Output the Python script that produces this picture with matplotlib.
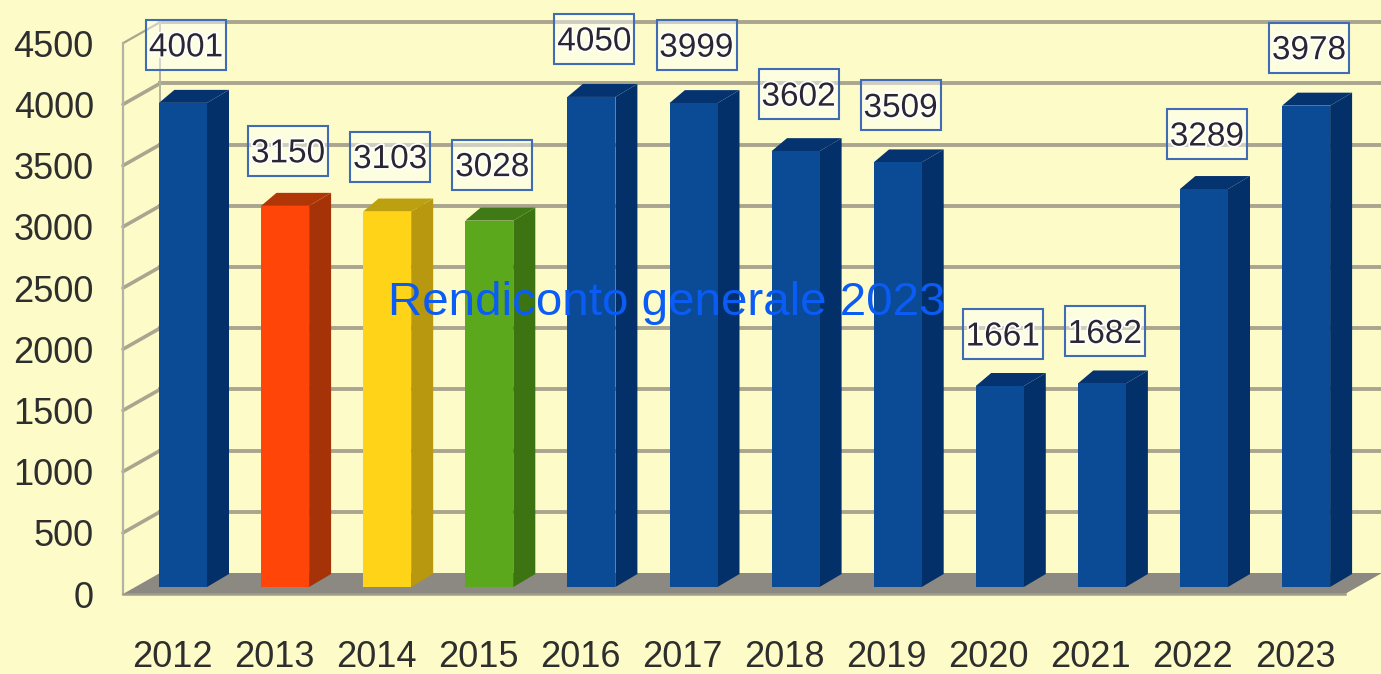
import matplotlib
matplotlib.use("Agg")
import matplotlib.pyplot as plt
import matplotlib.patheffects as pe
from matplotlib.patches import Polygon, Rectangle

years = ["2012", "2013", "2014", "2015", "2016", "2017", "2018", "2019", "2020", "2021", "2022", "2023"]
values = [4001, 3150, 3103, 3028, 4050, 3999, 3602, 3509, 1661, 1682, 3289, 3978]
front_colors = ["#0b4a94", "#ff4508", "#ffd318", "#5ca81c"] + ["#0b4a94"] * 8
side_colors = ["#04306a", "#a63208", "#b8980e", "#3c7412"] + ["#04306a"] * 8
top_colors = ["#05336f", "#b03608", "#bda010", "#407a16"] + ["#05336f"] * 8
label_lift = [58, 55, 55, 56, 58, 58, 57, 57, 52, 52, 55, 58]
y_ticks = [0, 500, 1000, 1500, 2000, 2500, 3000, 3500, 4000, 4500]
title = "Rendiconto generale 2023"

BG = "#fdfcc8"
GRID = "#a9a58f"
TXT = "#2e2e2e"
FONT = "Liberation Sans"
W, H = 1381, 674
L, R, B = 123, 1345, 594

PX_X = 102.1
PX_Y = 0.1224
BAR_PX_Y = 0.121

fig = plt.figure(figsize=(W / 100, H / 100), dpi=100, facecolor=BG)
rect = [L / W, (H - B) / H, (R - L) / W, B / H]
ax = fig.add_axes(rect, facecolor=BG)
ax2 = fig.add_axes(rect, facecolor="none")

xlim = ((L - 183) / PX_X, (R - 183) / PX_X)
ax.set_xlim(xlim)
ax.set_ylim(0, B / PX_Y)
ax2.set_xlim(xlim)
ax2.set_ylim(-7 / BAR_PX_Y, 587 / BAR_PX_Y)
ax2.axis("off")
for s in ax.spines.values():
    s.set_visible(False)

# 3D box: floor, side wall and back grid
back_dx = 37 / PX_X
back_dy = 21 / PX_Y
x0, x1 = xlim
ax.add_patch(Polygon([(x0, 0), (x0 + back_dx, back_dy), (x1 + back_dx, back_dy), (x1, 0)],
                     closed=True, fc="#8b8982", ec="none", clip_on=False, zorder=1))
for t in y_ticks[1:]:
    ax.plot([x0, x0 + back_dx], [t, t + back_dy], color=GRID, lw=2.6 if t < 4500 else 1.6,
            clip_on=False, zorder=2, solid_capstyle="round")
    ax.plot([x0 + back_dx, x1 + back_dx], [t + back_dy, t + back_dy], color=GRID, lw=2.8,
            clip_on=False, zorder=2)
ax.plot([x0, x0], [0, 4500], color="#b4b2a2", lw=1.6, clip_on=False, zorder=2)
ax.plot([x0 + back_dx, x0 + back_dx], [back_dy, 4500 + back_dy], color="#b4b2a2", lw=1.4, clip_on=False, zorder=2)
ax.plot([x0, x1], [0, 0], color="#a09e8a", lw=1.8, clip_on=False, zorder=2)

ax.set_yticks(y_ticks)
ax.set_yticklabels([str(t) for t in y_ticks], fontsize=26, family=FONT, color=TXT)
ax.set_xticks([i - 11 / PX_X for i in range(len(years))])
ax.set_xticklabels(years, fontsize=26, family=FONT, color=TXT)
ax.tick_params(axis="y", length=0, pad=21)
ax.tick_params(axis="x", length=0, pad=33)

# Bars with 3D side and top faces
bw = 48 / PX_X
dx = 22 / PX_X
dy = 13 / BAR_PX_Y
xs = list(range(len(years)))
ax2.bar(xs, values, width=bw, color=front_colors, linewidth=0, zorder=4, clip_on=False)
for x, v, sc, tc, lift in zip(xs, values, side_colors, top_colors, label_lift):
    a, b = x - bw / 2, x + bw / 2
    ax2.add_patch(Polygon([(b, 0), (b + dx, dy), (b + dx, v + dy), (b, v)], closed=True,
                          fc=sc, ec="none", zorder=3, clip_on=False))
    ax2.add_patch(Polygon([(a, v), (a + dx * 0.7, v + dy), (b + dx, v + dy), (b, v)], closed=True,
                          fc=tc, ec="none", zorder=3, clip_on=False))
    cx = x + 3 / PX_X
    cy = v + lift / BAR_PX_Y
    ax2.add_patch(Rectangle((cx - 40 / PX_X, cy - 25 / BAR_PX_Y), 80 / PX_X, 50 / BAR_PX_Y,
                            fc=(1, 1, 1, 0.45), ec="#3f6cb4", lw=1.5, zorder=5, clip_on=False))
    ax2.annotate(str(v), (cx, cy - 3 / BAR_PX_Y), ha="center", va="center", fontsize=24, family=FONT,
                 color="#2a2632", zorder=6, annotation_clip=False,
                 path_effects=[pe.withStroke(linewidth=2.5, foreground="#ffffff")])

ax2.set_title(title, x=(667 - L) / (R - L), y=(B - 311) / B, va="center", ha="center",
              fontsize=34.2, color="#0a5cf5", family=FONT, zorder=10)
fig.savefig("out.png", dpi=100, facecolor=BG)
